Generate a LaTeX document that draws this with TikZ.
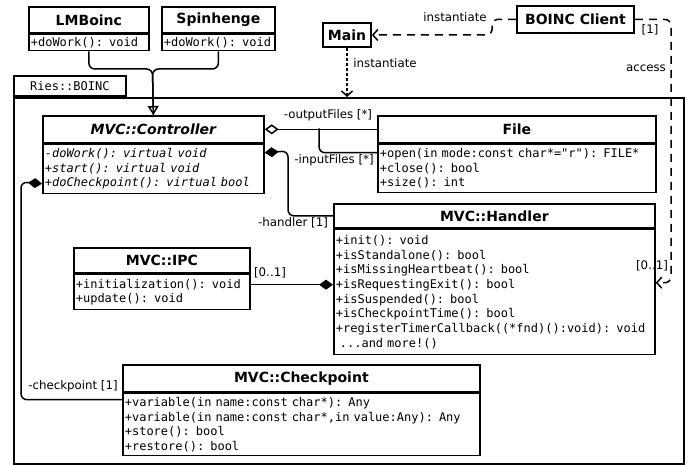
\documentclass[tikz,border=0pt]{standalone}
\usepackage{fontspec}
\setmainfont{DejaVu Sans}
\setsansfont{DejaVu Sans}
\setmonofont{DejaVu Sans Mono}[WordSpace={1,0,0}]
\usetikzlibrary{arrows.meta,calc}
\tikzset{
  box/.style={draw, line width=1.7pt, inner sep=0pt, anchor=north west},
  ttl/.style={box, font=\fontsize{14}{16}\selectfont\bfseries, align=center},
  mem/.style={box, font=\fontsize{12}{14.7}\selectfont\ttfamily, align=left, inner xsep=2pt},
  lbl/.style={font=\fontsize{11.8}{13}\selectfont, inner sep=0pt},
  conn/.style={line width=1.5pt, rounded corners=6pt},
  dsh/.style={conn, dash pattern=on 8pt off 6pt},
  dotl/.style={conn, dash pattern=on 3pt off 2pt},
  opena/.style={-{Straight Barb[length=5pt,width=11pt]}},
  gena/.style={-{Triangle[open,length=9pt,width=11pt]}},
  aggs/.style={{Diamond[open,length=14pt,width=10pt]}-},
  coms/.style={{Diamond[length=14pt,width=10pt]}-},
  come/.style={-{Diamond[length=14pt,width=10pt]}}
}
\begin{document}
\begin{tikzpicture}[x=1pt,y=-1pt]
\useasboundingbox (0,0) rectangle (693,465);

% package
\node[box, minimum width=670, minimum height=366] (pkg) at (13,97) {};
\node[box, anchor=south west, minimum width=112, minimum height=20,
      font=\fontsize{12}{14}\selectfont\ttfamily] (tab) at (pkg.north west) {Ries::BOINC};

% top classes
\node[ttl, minimum width=120, minimum height=26] (lmt) at (28,6) {LMBoinc};
\node[mem, text width=116, minimum height=16] (lmb) at (lmt.south west) {+doWork(): void};
\node[ttl, minimum width=113, minimum height=26] (spt) at (161,6) {Spinhenge};
\node[mem, text width=109, minimum height=16] (spb) at (spt.south west) {+doWork(): void};

\node[ttl, anchor=center, minimum width=48, minimum height=24] (main) at (347,35) {Main};
\node[ttl, anchor=center, minimum width=117, minimum height=27] (bc) at (575.5,19.5) {BOINC Client};

% Controller
\node[ttl, minimum width=221, minimum height=27, font=\fontsize{14}{16}\selectfont\bfseries\itshape] (ctlt) at (42,115) {MVC::Controller};
\node[mem, text width=217, minimum height=49, font=\fontsize{12}{14.5}\selectfont\ttfamily\itshape] (ctlb) at (ctlt.south west)
  {-doWork(): virtual void\\+start(): virtual void\\+doCheckpoint(): virtual bool};

% File
\node[ttl, minimum width=278, minimum height=27] (flt) at (377,115) {File};
\node[mem, text width=274, minimum height=48, font=\fontsize{12}{14.5}\selectfont\ttfamily] (flb) at (flt.south west)
  {+open(in mode:const char*="r"): FILE*\\+close(): bool\\+size(): int};

% Handler
\node[ttl, minimum width=321, minimum height=24] (hdt) at (333,203) {MVC::Handler};
\node[mem, text width=317, minimum height=125] (hdb) at (hdt.south west)
  {+init(): void\\+isStandalone(): bool\\+isMissingHeartbeat(): bool\\+isRequestingExit(): bool\\+isSuspended(): bool\\+isCheckpointTime(): bool\\+registerTimerCallback((*fnd)():void): void\\~...and more!()};

% IPC
\node[ttl, minimum width=176, minimum height=25] (ipct) at (73,247) {MVC::IPC};
\node[mem, text width=172, minimum height=35] (ipcb) at (ipct.south west)
  {+initialization(): void\\+update(): void};

% Checkpoint
\node[ttl, minimum width=357, minimum height=27] (cpt) at (122,364) {MVC::Checkpoint};
\node[mem, text width=353, minimum height=62, font=\fontsize{12}{14.5}\selectfont\ttfamily] (cpb) at (cpt.south west)
  {+variable(in name:const char*): Any\\+variable(in name:const char*,in value:Any): Any\\+store(): bool\\+restore(): bool};

% generalization
\coordinate (j) at (152.5,69);
\draw[conn] (lmb.south) |- (j) -- (ctlt.north);
\draw[conn, gena] (spb.south) |- (j) -- (ctlt.north);

% Main <- BOINC Client
\coordinate (mb) at (492,19.5);
\draw[dsh, rounded corners=5pt, opena] (bc.west) -- (mb) |- (main.east);
\node[lbl] (l1) at (455,17) {instantiate};

% Main -> package
\draw[dotl, opena] (main.south) -- (main.south |- pkg.north);
\node[lbl] (l2) at (385,63) {instantiate};

% access
\coordinate (ac) at (671,19.5);
\draw[dsh, opena] (bc.east) -- (ac) |- ($(hdb.north east)+(0,54)$);
\node[lbl] (l3) at (650,30) {[1]};
\node[lbl] (l4) at (646,68) {access};
\node[lbl] (l5) at (652,266) {[0..1]};

% files
\coordinate (sp) at (319,128.5);
\draw[conn, aggs] (ctlt.east) -- (flt.west);
\draw[conn] (sp) |- ($(flb.north west)+(0,9)$);
\node[lbl] (l6) at (328,115) {-outputFiles [*]};
\node[lbl] (l7) at (334,160) {-inputFiles [*]};

% handler
\coordinate (hk) at (288,151);
\draw[conn, coms] ($(ctlb.north east)+(0,9)$) -- (hk) |- (hdt.west);
\node[lbl] (l8) at (293,223) {-handler [1]};

% IPC
\draw[conn, come] ($(ipcb.north east)+(0,11)$) -- ($(hdb.north west)+(0,56)$);
\node[lbl] (l9) at (270,273) {[0..1]};

% checkpoint
\coordinate (ck) at (21,182);
\draw[conn, coms] ($(ctlb.north west)+(0,40)$) -- (ck) |- ($(cpb.north west)+(0,7)$);
\node[lbl] (l10) at (73,386) {-checkpoint [1]};
\end{tikzpicture}
\end{document}
